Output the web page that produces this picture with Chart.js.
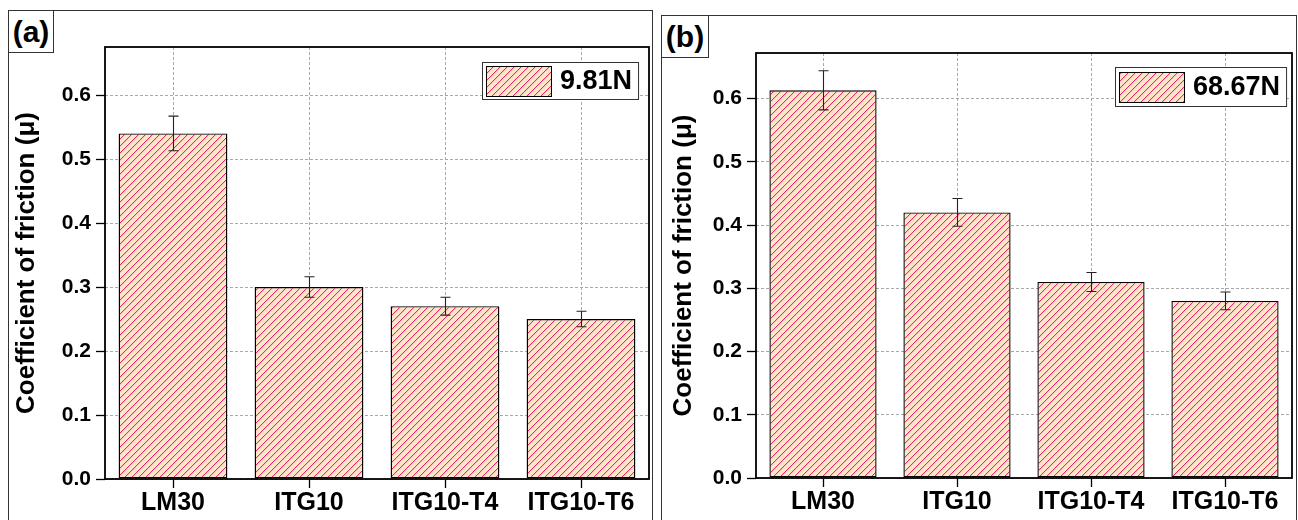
<!DOCTYPE html>
<html>
<head>
<meta charset="utf-8">
<script src="https://cdn.jsdelivr.net/npm/chart.js@4.4.1/dist/chart.umd.min.js"></script>
<style>
  html, body { margin: 0; padding: 0; background: #fff; }
  body { width: 1298px; height: 520px; position: relative; overflow: hidden; font-family: "Liberation Sans", Arial, sans-serif; }
  .panel { position: absolute; border: 1px solid #333; box-sizing: border-box; }
  .tag { position: absolute; border: 1px solid #333; box-sizing: border-box; background: #fff;
         font-weight: bold; font-size: 30px; display: flex; align-items: center; justify-content: center; z-index: 3; }
  canvas { position: absolute; z-index: 2; }
</style>
</head>
<body>
<div class="panel" style="left:8px; top:10px; width:645px; height:520px;"></div>
<div class="panel" style="left:661px; top:15px; width:636px; height:520px;"></div>
<div class="tag" style="left:8px; top:10px; width:46px; height:43px;">(a)</div>
<div class="tag" style="left:661px; top:15px; width:48px; height:43px;">(b)</div>
<canvas id="ca" width="655" height="520" style="left:0px; top:0px;"></canvas>
<canvas id="cb" width="643" height="520" style="left:655px; top:0px;"></canvas>
<script>
const categories = ['LM30', 'ITG10', 'ITG10-T4', 'ITG10-T6'];
const valuesA = [0.540, 0.300, 0.270, 0.250];
const errorsA = [0.027, 0.016, 0.014, 0.012];
const valuesB = [0.613, 0.420, 0.310, 0.280];
const errorsB = [0.031, 0.022, 0.015, 0.014];
const yTickValues = [0.0, 0.1, 0.2, 0.3, 0.4, 0.5, 0.6];
const legendA = '9.81N';
const legendB = '68.67N';
const yTitle = 'Coefficient of friction (\u03bc)';

const FILL = '#FCE6C6';
const HATCH = '#EE2479';
const HATCH_SOFT = '#F8C4C0';
const FONT = '"Liberation Sans", Arial, sans-serif';

function makeHatch(ctx) {
  const s = 7;
  const c = document.createElement('canvas');
  c.width = s; c.height = s;
  const g = c.getContext('2d');
  g.fillStyle = FILL; g.fillRect(0, 0, s, s);
  for (let i = 0; i < s; i++) {
    g.fillStyle = HATCH;
    g.fillRect(i, s - 1 - i, 1, 1);
    g.fillStyle = HATCH_SOFT;
    g.fillRect(i, (s - i) % s, 1, 1);
  }
  return ctx.createPattern(c, 'repeat');
}

const extrasPlugin = {
  id: 'extras',
  afterDatasetsDraw(chart, args, opts) {
    const ctx = chart.ctx;
    const ca = chart.chartArea;
    const ys = chart.scales.y;
    const meta = chart.getDatasetMeta(0);
    const vals = chart.data.datasets[0].data;
    const errs = opts.errors;
    ctx.save();
    ctx.strokeStyle = '#000';
    ctx.lineWidth = 1.8;
    ctx.setLineDash([]);
    ctx.strokeRect(ca.left, ca.top, ca.right - ca.left, ca.bottom - ca.top);
    ctx.strokeStyle = '#222';
    ctx.lineWidth = 1.1;
    meta.data.forEach((bar, i) => {
      const x = Math.round(bar.x) + 0.5;
      const yt = ys.getPixelForValue(vals[i] + errs[i]);
      const yb = ys.getPixelForValue(vals[i] - errs[i]);
      ctx.beginPath();
      ctx.moveTo(x, yt); ctx.lineTo(x, yb);
      ctx.moveTo(x - 5, yt); ctx.lineTo(x + 5, yt);
      ctx.moveTo(x - 5, yb); ctx.lineTo(x + 5, yb);
      ctx.stroke();
    });
    const label = chart.data.datasets[0].label;
    ctx.font = 'bold 27px ' + FONT;
    const tw = ctx.measureText(label).width;
    const sw = 65, sh = 30;
    const bw = 4 + sw + 9 + tw + 6;
    const bh = opts.legendH;
    const bx = Math.round(ca.right - opts.legendRight - bw);
    const by = Math.round(ca.top + opts.legendTop);
    ctx.fillStyle = '#fff';
    ctx.fillRect(bx, by, bw, bh);
    ctx.strokeStyle = '#333';
    ctx.lineWidth = 1;
    ctx.strokeRect(bx + 0.5, by + 0.5, bw, bh);
    ctx.fillStyle = makeHatch(ctx);
    const sy = Math.round(by + (bh - sh) / 2);
    ctx.fillRect(bx + 4, sy, sw, sh);
    ctx.strokeStyle = '#000';
    ctx.strokeRect(bx + 4.5, sy + 0.5, sw, sh);
    ctx.fillStyle = '#000';
    ctx.textBaseline = 'middle';
    ctx.textAlign = 'left';
    ctx.fillText(label, bx + 4 + sw + 9, by + bh / 2 + 1);
    ctx.restore();
  }
};

function buildChart(id, values, errors, label, cfg) {
  const canvas = document.getElementById(id);
  const ctx = canvas.getContext('2d');
  return new Chart(ctx, {
    type: 'bar',
    data: {
      labels: categories,
      datasets: [{
        label: label,
        data: values,
        backgroundColor: makeHatch(ctx),
        borderColor: '#000',
        borderWidth: 1.4,
        borderSkipped: false,
        categoryPercentage: 1.0,
        barPercentage: 0.8
      }]
    },
    options: {
      responsive: false,
      animation: false,
      devicePixelRatio: 1,
      layout: { padding: { top: cfg.top, right: cfg.right, left: 0, bottom: 0 } },
      plugins: {
        legend: { display: false },
        tooltip: { enabled: false },
        extras: { errors: errors, legendRight: cfg.legendRight, legendTop: cfg.legendTop, legendH: cfg.legendH }
      },
      scales: {
        x: {
          offset: true,
          grid: {
            offset: false, color: '#a8a8a8', lineWidth: 1,
            drawTicks: true, tickLength: 9, tickColor: '#000', tickWidth: 1.3, tickBorderDash: []
          },
          border: { display: false, dash: [3, 2] },
          ticks: { color: '#000', font: { family: FONT, size: 25, weight: 'bold' }, padding: 0, maxRotation: 0, autoSkip: false },
          afterFit: (s) => { s.height = cfg.xh; }
        },
        y: {
          min: 0, max: cfg.max,
          afterBuildTicks: (s) => { s.ticks = yTickValues.map(v => ({ value: v })); },
          grid: {
            color: '#a8a8a8', lineWidth: 1,
            drawTicks: true, tickLength: 9, tickColor: '#000', tickWidth: 1.3, tickBorderDash: []
          },
          border: { display: false, dash: [3, 2] },
          ticks: {
            color: '#000', font: { family: FONT, size: 21, weight: 'bold' }, padding: 5,
            callback: (v) => Number(v).toFixed(1)
          },
          title: {
            display: true, text: yTitle, color: '#000',
            font: { family: FONT, size: 26, weight: 'bold' },
            padding: { top: cfg.titlePad, bottom: 0 }
          },
          afterFit: (s) => { s.width = cfg.yw; }
        }
      }
    },
    plugins: [extrasPlugin]
  });
}

buildChart('ca', valuesA, errorsA, legendA,
  { top: 47, right: 6, xh: 41, yw: 105, max: 0.675, titlePad: 11, legendRight: 11, legendTop: 15, legendH: 37 });
buildChart('cb', valuesB, errorsB, legendB,
  { top: 53, right: 6, xh: 42, yw: 101, max: 0.672, titlePad: 13, legendRight: 6, legendTop: 14, legendH: 39 });
</script>
</body>
</html>
